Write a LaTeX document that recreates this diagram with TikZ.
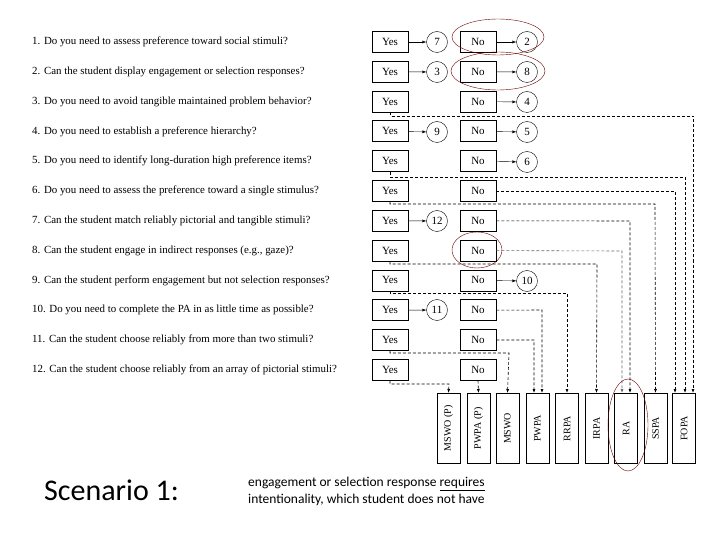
\documentclass[tikz,border=0pt]{standalone}
\usepackage{fontspec}
\setmainfont{Liberation Serif}
\newfontfamily\calib{Carlito}
\usetikzlibrary{arrows.meta}
\begin{document}
\begin{tikzpicture}[x=1pt,y=-1pt,
 q/.style={anchor=west,font=\fontsize{10.9}{12}\selectfont,inner sep=0},
 bx/.style={draw,thick,minimum width=36pt,minimum height=21pt,inner sep=0,font=\fontsize{11}{12}\selectfont},
 cc/.style={draw,circle,minimum size=21pt,inner sep=0,font=\fontsize{11}{12}\selectfont},
 pa/.style={draw,thick,minimum width=23pt,minimum height=70pt,inner sep=0,anchor=north,font=\fontsize{10}{11}\selectfont},
 ar/.style={-{Latex[length=4pt,width=3pt]}},
 da/.style={semithick,dash pattern=on 3pt off 2pt,ar},
 el/.style={draw=red!45!black}]
\useasboundingbox (0,0) rectangle (720,540);
\foreach \i/\t in {1/{1. Do you need to assess preference toward social stimuli?},
2/{2. Can the student display engagement or selection responses?},
3/{3. Do you need to avoid tangible maintained problem behavior?},
4/{4. Do you need to establish a preference hierarchy?},
5/{5. Do you need to identify long-duration high preference items?},
6/{6. Do you need to assess the preference toward a single stimulus?},
7/{7. Can the student match reliably pictorial and tangible stimuli?},
8/{8. Can the student engage in indirect responses (e.g., gaze)?},
9/{9. Can the student perform engagement but not selection responses?},
10/{10. Do you need to complete the PA in as little time as possible?},
11/{11. Can the student choose reliably from more than two stimuli?},
12/{12. Can the student choose reliably from an array of pictorial stimuli?}}{
 \pgfmathsetmacro\yy{42+(\i-1)*29.8}
 \node[q] (q\i) at (32,\yy) {\t};
 \node[bx] (y\i) at (390,\yy) {Yes};
 \node[bx] (n\i) at (478,\yy) {No};
}
\foreach \n/\x/\t in {a/448.5/MSWO (P),b/478.5/PWPA (P),c/507.5/MSWO,d/537.5/PWPA,e/567/RRPA,f/596.5/IRPA,g/626/RA,h/655.5/SSPA,k/684/FOPA}
 \node[pa] (p\n) at (\x,393) {\rotatebox{90}{\t}};
% circles
\node[cc] (c7) at (437,42) {7};
\node[cc] (c2) at (527,42) {2};
\node[cc] (c3) at (437,72) {3};
\node[cc] (c8) at (527,72) {8};
\node[cc] (c4) at (527,102) {4};
\node[cc] (c9) at (437,132) {9};
\node[cc] (c5) at (527,132) {5};
\node[cc] (c6) at (527,162) {6};
\node[cc] (c12) at (437,221) {12};
\node[cc] (c10) at (527,281) {10};
\node[cc] (c11) at (437,310) {11};
\foreach \a/\b in {y1/c7,n1/c2,y2/c3,n2/c8,n3/c4,y4/c9,n4/c5,n5/c6,y7/c12,n9/c10,y10/c11}
 \draw[ar] (\a) -- (\b);
% dashed connectors
\draw[da] (y3.south) -- (390,116) -- (693,116) -- (693,393);
\draw[da] (y5.south) -- (390,177) -- (685,177) -- (685,393);
\draw[da] (n6.east) -- (675,191) -- (675,393);
\draw[da] (y6.south) -- (390,204) -- (655,204) -- (ph.north);
\draw[da] (n7.east) -- (630,221) -- (630,393);
\draw[da,black!60] (n8.east) -- (622,251) -- (622,393);
\draw[da] (y8.south) -- (390,264) -- (597,264) -- (pf.north);
\draw[da] (y9.south) -- (390,293) -- (567,293) -- (pe.north);
\draw[da] (n10.east) -- (542,310) -- (542,393);
\draw[da] (n11.east) -- (534,340) -- (534,393);
\draw[da] (y11.south) -- (390,353) -- (509,353) -- (pc.north);
\draw[da] (y12.south) -- (390,384) -- (449,384) -- (pa.north);
\draw[da] (n12.south) -- (pb.north);
% red ellipses
\draw[el] (498,37) ellipse (46pt and 18pt);
\draw[el] (498,71) ellipse (47pt and 19pt);
\draw[el] (477,250) ellipse (25pt and 18pt);
\draw[el] (628,425) ellipse (20pt and 46pt);
% bottom text
\node[anchor=west,font=\calib\fontsize{30}{34}\selectfont,inner sep=0] (sc) at (44,490) {Scenario 1:};
\node[anchor=north west,align=left,font=\calib\fontsize{13.5}{16.5}\selectfont,inner sep=0] (ex) at (248,477) {engagement or selection response \underline{requires}\\intentionality, which student does not have};
\end{tikzpicture}
\end{document}
